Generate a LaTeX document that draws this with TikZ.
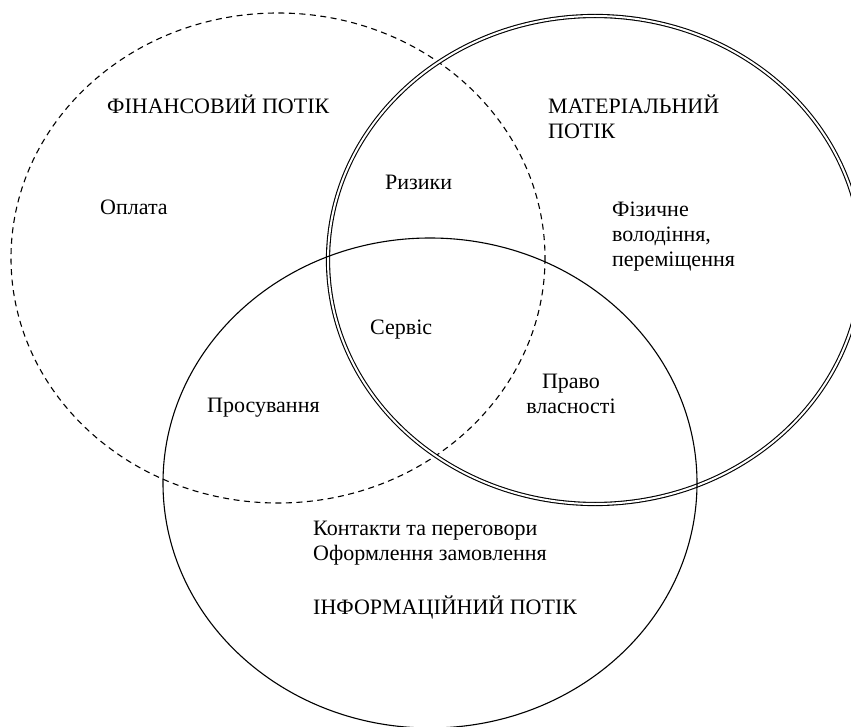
\documentclass[tikz,border=0pt]{standalone}
\usepackage{fontspec}
\setmainfont{Liberation Serif}
\begin{document}
\begin{tikzpicture}[x=1pt,y=-1pt,
  txt/.style={font=\fontsize{22}{25}\selectfont, inner sep=0pt, anchor=west, align=left},
  fin/.style={draw, line width=1.1pt, dash pattern=on 6pt off 4.5pt},
  mat/.style={draw, double, line width=1.1pt, double distance=2pt},
  inf/.style={draw, line width=1.1pt}]
\useasboundingbox (0,0) rectangle (851,727);
\begin{scope}
\clip (0,0) rectangle (851,727);
\path[fin] (278,258) ellipse [x radius=267, y radius=245];
\path[mat] (595,260) ellipse [x radius=267, y radius=244];
\path[inf] (430,483) ellipse [x radius=267, y radius=245];
\end{scope}
\node[txt] (finT) at (107,104) {ФІНАНСОВИЙ ПОТІК};
\node[txt] (opl) at (100,207) {Оплата};
\node[txt] (riz) at (385,182) {Ризики};
\node[txt] (matT) at (548,117) {МАТЕРІАЛЬНИЙ\\ПОТІК};
\node[txt] (fiz) at (612,237) {Фізичне\\володіння,\\переміщення};
\node[txt] (serv) at (370,330) {Сервіс};
\node[txt] (pros) at (207,408) {Просування};
\node[txt, anchor=center, align=center] (prav) at (571,394) {Право\\власності};
\node[txt] (kont) at (313,543) {Контакти та переговори\\Оформлення замовлення};
\node[txt] (infT) at (313,608) {ІНФОРМАЦІЙНИЙ ПОТІК};
\end{tikzpicture}
\end{document}
